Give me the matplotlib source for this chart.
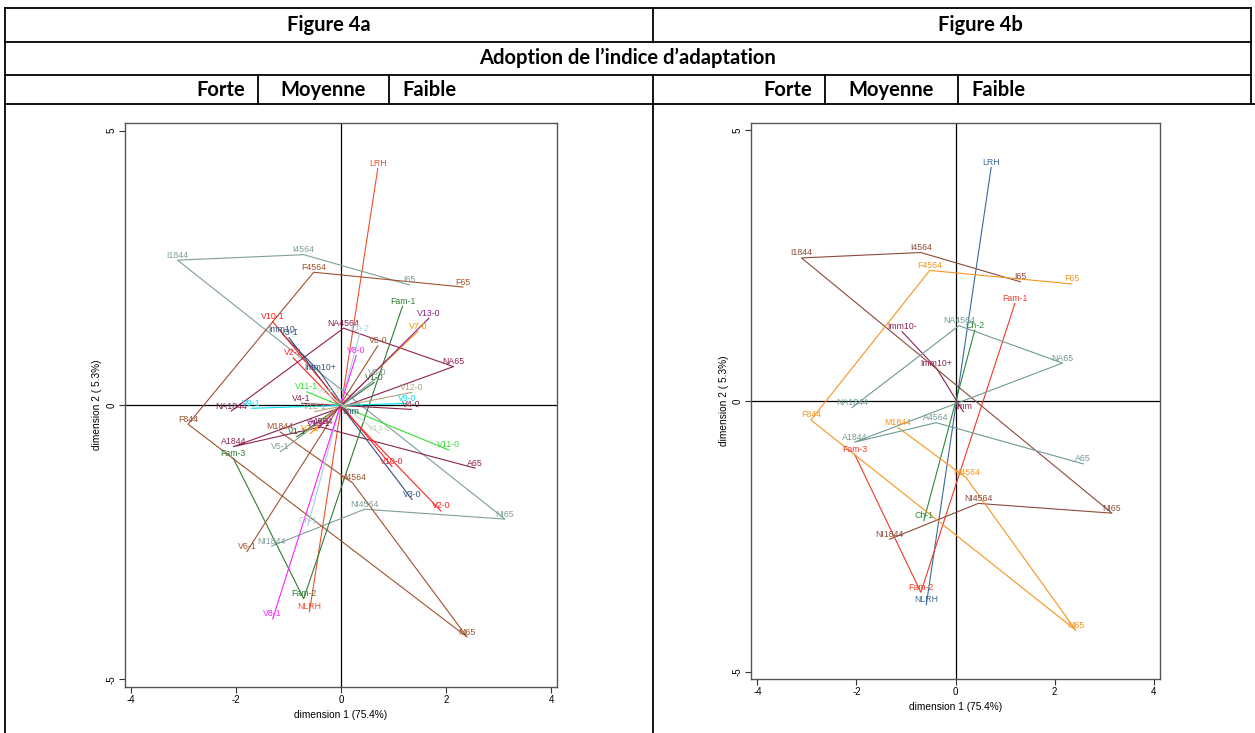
import matplotlib
matplotlib.use('Agg')
import matplotlib.pyplot as plt
from matplotlib.lines import Line2D

W, H = 1255, 733

# Figure 4a : modalités, coordonnées sur dimension 1 / dimension 2
labels_4a = ['LRH', 'NLRH',
             'I65', 'I4564', 'I1844', 'NI65', 'NI4564', 'NI1844',
             'F65', 'F4564', 'F844', 'M65', 'M4564', 'M1844',
             'A65', 'A4564', 'A1844', 'NA65', 'NA4564', 'NA1844',
             'Fam-1', 'Fam-2', 'Fam-3',
             'Imm10-', 'Imm10+', 'Imm',
             'Ch-2', 'Ch-1',
             'V1-1', 'V1-0', 'V2-1', 'V2-0', 'V3-1', 'V3-0', 'V4-1', 'V4-0',
             'V5-1', 'V5-0', 'V6-1', 'V6-0', 'V7-1', 'V7-0', 'V8-1', 'V8-0',
             'V9-1', 'V9-0', 'V10-1', 'V10-0', 'V11-1', 'V11-0', 'V12-1', 'V12-0',
             'V13-1', 'V13-0', 'V14-1', 'V14-0']
dim1_4a = [0.70, -0.60,
           1.30, -0.71, -3.11, 3.12, 0.45, -1.32,
           2.32, -0.52, -2.91, 2.40, 0.22, -1.16,
           2.55, -0.39, -2.05, 2.14, 0.05, -2.09,
           1.17, -0.71, -2.05,
           -1.10, -0.40, 0.18,
           0.36, -0.63,
           -0.84, 0.63, -0.91, 1.90, -0.99, 1.35, -0.75, 1.34,
           -1.15, 0.69, -1.79, 0.70, -0.58, 1.46, -1.30, 0.29,
           -1.70, 1.26, -1.30, 0.97, -0.65, 2.05, -0.50, 1.35,
           -0.43, 1.67, -0.23, 0.74]
dim2_4a = [4.31, -3.77,
           2.19, 2.74, 2.64, -2.08, -1.90, -2.57,
           2.15, 2.42, -0.35, -4.23, -1.42, -0.49,
           -1.15, -0.40, -0.76, 0.70, 1.40, -0.11,
           1.80, -3.53, -0.97,
           1.28, 0.60, -0.21,
           1.31, -2.20,
           -0.58, 0.41, 0.86, -1.93, 1.23, -1.72, 0.03, -0.08,
           -0.85, 0.50, -2.67, 1.08, -0.52, 1.34, -3.90, 0.90,
           -0.06, 0.03, 1.52, -1.12, 0.24, -0.82, -0.12, 0.23,
           -0.42, 1.58, 0.18, -0.52]
var_4a = ['LRH'] * 2 + ['I'] * 6 + ['F'] * 6 + ['A'] * 6 + ['Fam'] * 3 + ['Imm'] * 3 + ['Ch'] * 2 + \
         ['V1', 'V1', 'V2', 'V2', 'V3', 'V3', 'V4', 'V4', 'V5', 'V5', 'V6', 'V6', 'V7', 'V7',
          'V8', 'V8', 'V9', 'V9', 'V10', 'V10', 'V11', 'V11', 'V12', 'V12', 'V13', 'V13', 'V14', 'V14']
colors_4a = {'LRH': '#f0502a', 'I': '#7f9f99', 'F': '#a0522d', 'A': '#8b2252',
             'Fam': '#2e7d32', 'Imm': '#34507e', 'Ch': '#a9d0e8',
             'V1': '#2e6b2e', 'V2': '#ff2020', 'V3': '#34507e', 'V4': '#8b2240',
             'V5': '#7f9f99', 'V6': '#a0522d', 'V7': '#ff8c00', 'V8': '#ff20ff',
             'V9': '#00e0f0', 'V10': '#ff2020', 'V11': '#30e030', 'V12': '#b4a67a',
             'V13': '#8b1a8b', 'V14': '#c5dcc5'}

# Figure 4b
labels_4b = ['LRH', 'NLRH',
             'Fam-1', 'Fam-2', 'Fam-3',
             'Ch-2', 'Ch-1',
             'Imm10-', 'Imm10+', 'Imm',
             'I65', 'I4564', 'I1844', 'NI65', 'NI4564', 'NI1844',
             'F65', 'F4564', 'F844', 'M65', 'M4564', 'M1844',
             'A65', 'A4564', 'A1844', 'NA65', 'NA4564', 'NA1844']
dim1_4b = [0.72, -0.59,
           1.20, -0.70, -2.04,
           0.39, -0.64,
           -1.08, -0.38, 0.16,
           1.31, -0.70, -3.11, 3.16, 0.46, -1.33,
           2.35, -0.52, -2.92, 2.43, 0.22, -1.16,
           2.58, -0.39, -2.04, 2.16, 0.07, -2.09]
dim2_4b = [4.31, -3.76,
           1.80, -3.53, -0.98,
           1.31, -2.21,
           1.28, 0.60, -0.20,
           2.20, 2.74, 2.64, -2.07, -1.89, -2.55,
           2.16, 2.41, -0.35, -4.23, -1.42, -0.49,
           -1.16, -0.40, -0.76, 0.70, 1.39, -0.12]
var_4b = ['LRH'] * 2 + ['Fam'] * 3 + ['Ch'] * 2 + ['Imm'] * 3 + ['I'] * 6 + ['F'] * 6 + ['A'] * 6
colors_4b = {'LRH': '#3d6a99', 'Fam': '#f03a24', 'Ch': '#2a8a3a', 'Imm': '#8b2252',
             'I': '#8b4a3a', 'F': '#f7941d', 'A': '#6f9a94'}

xticks = [-4, -2, 0, 2, 4]
yticks = [-5, 0, 5]

fig = plt.figure(figsize=(W / 100, H / 100), dpi=100)


def fx(x):
    return x / W


def fy(y):
    return 1 - y / H


def hline(x0, x1, y, lw=1.3):
    fig.add_artist(Line2D([fx(x0), fx(x1)], [fy(y), fy(y)], transform=fig.transFigure, color='black', lw=lw))


def vline(x, y0, y1, lw=1.3):
    fig.add_artist(Line2D([fx(x), fx(x)], [fy(y0), fy(y1)], transform=fig.transFigure, color='black', lw=lw))


# tableau
hline(5, 1251, 8)
hline(5, 1251, 42)
hline(5, 1251, 75)
hline(5, 1255, 104)
vline(5, 8, 733)
vline(1251, 8, 104)
vline(653, 8, 42)
vline(653, 75, 733)
for xd in [258, 389, 825, 958]:
    vline(xd, 75, 104)

hfont = dict(family='Lato', weight='bold', fontsize=14.5)
fig.text(fx(329), fy(31), 'Figure 4a', ha='center', va='baseline', **hfont)
fig.text(fx(980), fy(31), 'Figure 4b', ha='center', va='baseline', **hfont)
fig.text(fx(627), fy(64), 'Adoption de l\u2019indice d\u2019adaptation', ha='center', va='baseline', **hfont)
for x0, x1 in [(258, 389), (825, 958)]:
    fig.text(fx(x0 - 13), fy(96), 'Forte', ha='right', va='baseline', **hfont)
    fig.text(fx((x0 + x1) / 2), fy(96), 'Moyenne', ha='center', va='baseline', **hfont)
    fig.text(fx(x1 + 13), fy(96), 'Faible', ha='left', va='baseline', **hfont)


def biplot(box, labels, d1, d2, var, colors, xlim, ylim):
    left, top, right, bottom = box
    ax = fig.add_axes([fx(left), fy(bottom), (right - left) / W, (bottom - top) / H])
    ax.axhline(0, color='black', lw=0.9, zorder=1)
    ax.axvline(0, color='black', lw=0.9, zorder=1)
    order = []
    for v in var:
        if v not in order:
            order.append(v)
    for v in order:
        idx = [i for i, g in enumerate(var) if g == v]
        ax.plot([d1[i] for i in idx], [d2[i] for i in idx], color=colors[v], lw=0.8, zorder=2)
    for lab, x, y, v in zip(labels, d1, d2, var):
        ax.annotate(lab, (x, y), xytext=(0, 5), textcoords='offset pixels', ha='center', va='center',
                    fontsize=6.3, color=colors[v], family='Liberation Sans', zorder=3)
    ax.set_xlim(*xlim)
    ax.set_ylim(*ylim)
    ax.set_xticks(xticks)
    ax.set_yticks(yticks)
    ax.set_xticklabels([str(t) for t in xticks], fontsize=7, family='Liberation Sans')
    ax.set_yticklabels([str(t) for t in yticks], fontsize=7, family='Liberation Sans',
                       rotation=90, va='center')
    ax.tick_params(length=4, width=0.8, color='#333333', pad=2)
    for s in ax.spines.values():
        s.set_color('#555555')
        s.set_linewidth(1.0)
    ax.set_xlabel('dimension 1 (75.4%)', fontsize=7.3, family='Liberation Sans', labelpad=3)
    ax.set_ylabel('dimension 2 ( 5.3%)', fontsize=7.3, family='Liberation Sans', labelpad=3)
    return ax


biplot((125, 123, 557, 687), labels_4a, dim1_4a, dim2_4a, var_4a, colors_4a, (-4.11, 4.11), (-5.14, 5.14))
biplot((751, 123, 1160, 679), labels_4b, dim1_4b, dim2_4b, var_4b, colors_4b, (-4.13, 4.13), (-5.13, 5.13))

fig.savefig('out.png', dpi=100)
